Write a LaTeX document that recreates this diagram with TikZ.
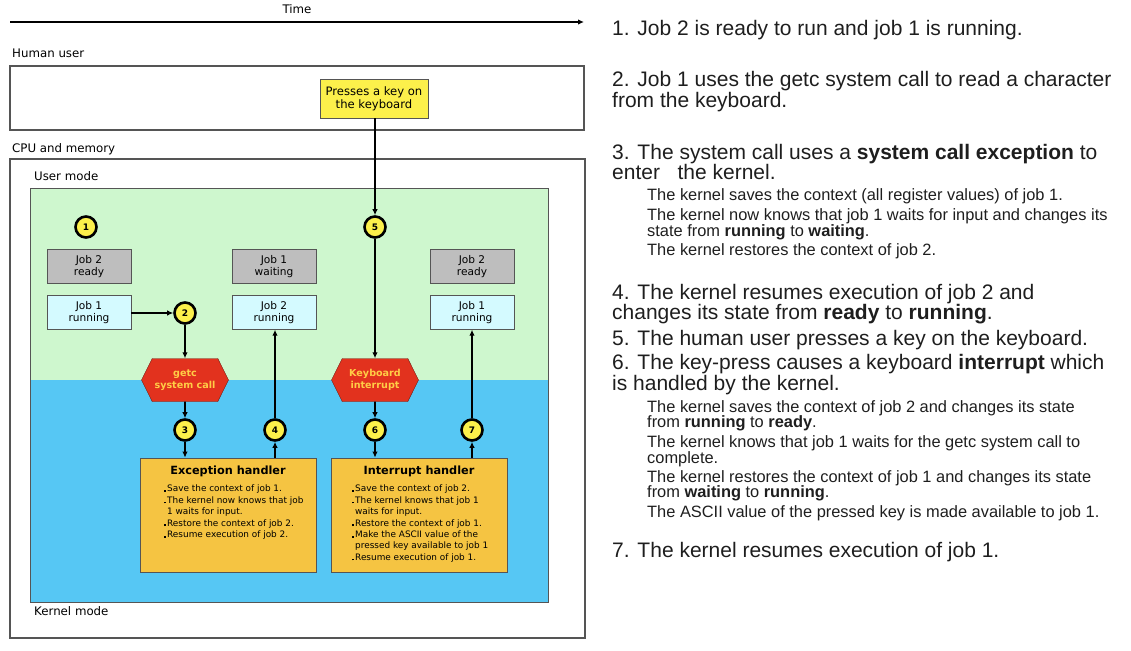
\documentclass[tikz,border=0pt]{standalone}
\usepackage{fontspec}
\setmainfont{Liberation Sans}
\newfontfamily\diagfont{DejaVu Sans}
\usetikzlibrary{arrows.meta,positioning,shapes.symbols}

\definecolor{usergreen}{RGB}{206,247,206}
\definecolor{kernelblue}{RGB}{86,199,244}
\definecolor{stategray}{RGB}{190,190,190}
\definecolor{statecyan}{RGB}{212,250,255}
\definecolor{stepyellow}{RGB}{252,240,75}
\definecolor{trapred}{RGB}{226,50,30}
\definecolor{trapedge}{RGB}{110,30,20}
\definecolor{traptext}{RGB}{255,205,70}
\definecolor{handlerorange}{RGB}{245,196,66}
\definecolor{framegray}{RGB}{85,85,85}
\definecolor{inkgray}{RGB}{30,30,30}

\newcommand{\dotitem}{\makebox[3.5pt][l]{\rule{1.8pt}{1.8pt}}}
\newcommand{\bigsize}{\fontsize{21}{21}\selectfont}
\newcommand{\subsize}{\fontsize{16.4}{16}\selectfont}

\begin{document}
\begin{tikzpicture}[x=1pt,y=-1pt,>={Latex[length=6pt,width=5.5pt]}]
  \tikzstyle{flow} = [draw,line width=1.8pt,->];
  \tikzstyle{lbl} = [inner sep=0,anchor=base west,font=\diagfont\fontsize{11.8}{13}\selectfont];
  \tikzstyle{stepnum} = [circle,draw,line width=2.6pt,fill=stepyellow,minimum size=21pt,inner sep=0,font=\diagfont\bfseries\fontsize{9}{9}\selectfont];
  \tikzstyle{state} = [draw=framegray,line width=0.8pt,minimum width=84pt,minimum height=34pt,inner sep=0,align=center,font=\diagfont\fontsize{10.6}{12}\selectfont];
  \tikzstyle{trap} = [signal,signal to=east and west,signal pointer angle=127,draw=trapedge,fill=trapred,text=traptext,minimum width=87pt,minimum height=43pt,inner sep=0,align=center,font=\diagfont\bfseries\fontsize{9.6}{12.3}\selectfont];
  \tikzstyle{handler} = [draw=framegray,line width=0.8pt,fill=handlerorange,minimum width=176pt,minimum height=114pt,inner sep=0];
  \tikzstyle{bullets} = [inner sep=0,anchor=north west,align=left,font=\diagfont\fontsize{8.9}{11.4}\selectfont];
  \tikzstyle{bigline} = [inner sep=0,anchor=base west,text=inkgray,font=\bigsize];
  \tikzstyle{subline} = [inner sep=0,anchor=base west,text=inkgray,font=\subsize];
  \useasboundingbox (0,0) rectangle (1131,650);

  % time line
  \node[lbl,anchor=base] (time) at (297,14) {Time};
  \coordinate (t0) at (10,22);
  \coordinate (t1) at (584,22);
  \draw[line width=1.6pt,->] (t0) -- (t1);

  % frames and modes
  \node[lbl] (human) at (12,58) {Human user};
  \draw[framegray,line width=1.2pt] (10,66) rectangle (584,130);
  \node[lbl] (cpu) at (12,152) {CPU and memory};
  \draw[framegray,line width=1.2pt] (10,159) rectangle (585,638);
  \node[lbl] (usermode) at (34,180) {User mode};
  \fill[usergreen] (30,188) rectangle (548,380);
  \fill[kernelblue] (30,380) rectangle (548,602);
  \draw[framegray,line width=0.8pt] (30,188) rectangle (548,602);
  \node[lbl] (kernelmode) at (34,615) {Kernel mode};

  \node[draw=framegray,fill=stepyellow,line width=0.8pt,minimum width=108pt,minimum height=39pt,inner sep=0,align=center,font=\diagfont\fontsize{11.6}{13}\selectfont] (key) at (374,98.5) {Presses a key on\\the keyboard};

  % job states
  \node[state,fill=stategray] (ready2a) at (89,266.5) {Job 2\\ready};
  \node[state,fill=statecyan,below=11pt of ready2a] (run1a) {Job 1\\running};
  \node[state,fill=stategray] (wait1) at (274,266.5) {Job 1\\waiting};
  \node[state,fill=statecyan,below=11pt of wait1] (run2) {Job 2\\running};
  \node[state,fill=stategray] (ready2b) at (472,266.5) {Job 2\\ready};
  \node[state,fill=statecyan,below=11pt of ready2b] (run1b) {Job 1\\running};

  % traps into the kernel
  \node[trap] (getc) at (185,380) {getc\\system call};
  \node[trap] (kbd) at (375,380) {Keyboard\\interrupt};

  % handlers
  \node[handler] (exc) at (228,515) {};
  \node[handler] (irq) at (419,515) {};
  \node[inner sep=0,anchor=base,font=\diagfont\bfseries\fontsize{11.3}{13}\selectfont] (exctitle) at (228,474.5) {Exception handler};
  \node[inner sep=0,anchor=base,font=\diagfont\bfseries\fontsize{11.3}{13}\selectfont] (irqtitle) at (419,474.5) {Interrupt handler};
  \node[bullets] (excitems) at (163.5,485) {\dotitem Save the context of job 1.\\
    \dotitem The kernel now knows that job\\
    \hspace*{3.5pt}1 waits for input.\\
    \dotitem Restore the context of job 2.\\
    \dotitem Resume execution of job 2.};
  \node[bullets] (irqitems) at (351.5,485) {\dotitem Save the context of job 2.\\
    \dotitem The kernel knows that job 1\\
    \hspace*{3.5pt}waits for input.\\
    \dotitem Restore the context of job 1.\\
    \dotitem Make the ASCII value of the\\
    \hspace*{3.5pt}pressed key available to job 1\\
    \dotitem Resume execution of job 1.};

  % numbered steps
  \node[stepnum] (n1) at (86,227) {1};
  \node[stepnum] (n2) at (185,313) {2};
  \node[stepnum] (n3) at (185,430) {3};
  \node[stepnum] (n4) at (275,430) {4};
  \node[stepnum] (n5) at (375,227) {5};
  \node[stepnum] (n6) at (375,430) {6};
  \node[stepnum] (n7) at (472,430) {7};

  \draw[flow] (run1a.east |- n2) -- (n2);
  \draw[flow] (n2) -- (getc);
  \draw[flow] (getc) -- (n3);
  \draw[flow] (n3) -- (n3 |- exc.north);
  \draw[flow] (exc.north -| n4) -- (n4);
  \draw[flow] (n4) -- (n4 |- run2.south);
  \draw[flow] (key.south -| n5) -- (n5);
  \draw[flow] (n5) -- (kbd);
  \draw[flow] (kbd) -- (n6);
  \draw[flow] (n6) -- (irq.north -| n6);
  \draw[flow] (irq.north -| n7) -- (n7);
  \draw[flow] (n7) -- (n7 |- run1b.south);

  % explanation
  \node[bigline] (s1) at (612,36) {1. Job 2 is ready to run and job 1 is running.};
  \node[bigline] (s2a) at (612,87) {2. Job 1 uses the getc system call to read a character};
  \node[bigline] (s2b) at (612,108) {from the keyboard.};
  \node[bigline] (s3a) at (612,159) {3. The system call uses a \textbf{system call exception} to};
  \node[bigline] (s3b) at (612,179) {enter\ \ \ the kernel.};
  \node[subline] (s3c) at (647,200) {The kernel saves the context (all register values) of job 1.};
  \node[subline] (s3d) at (647,220) {The kernel now knows that job 1 waits for input and changes its};
  \node[subline] (s3e) at (647,236) {state from \textbf{running} to \textbf{waiting}.};
  \node[subline] (s3f) at (647,255) {The kernel restores the context of job 2.};
  \node[bigline] (s4a) at (612,299) {4. The kernel resumes execution of job 2 and};
  \node[bigline] (s4b) at (612,319) {changes its state from \textbf{ready} to \textbf{running}.};
  \node[bigline] (s5) at (612,345) {5. The human user presses a key on the keyboard.};
  \node[bigline] (s6a) at (612,369) {6. The key-press causes a keyboard \textbf{interrupt} which};
  \node[bigline] (s6b) at (612,390) {is handled by the kernel.};
  \node[subline] (s6c) at (647,412) {The kernel saves the context of job 2 and changes its state};
  \node[subline] (s6d) at (647,427) {from \textbf{running} to \textbf{ready}.};
  \node[subline] (s6e) at (647,447) {The kernel knows that job 1 waits for the getc system call to};
  \node[subline] (s6f) at (647,463) {complete.};
  \node[subline] (s6g) at (647,482) {The kernel restores the context of job 1 and changes its state};
  \node[subline] (s6h) at (647,497) {from \textbf{waiting} to \textbf{running}.};
  \node[subline] (s6i) at (647,517) {The ASCII value of the pressed key is made available to job 1.};
  \node[bigline] (s7) at (612,557) {7. The kernel resumes execution of job 1.};
\end{tikzpicture}
\end{document}
